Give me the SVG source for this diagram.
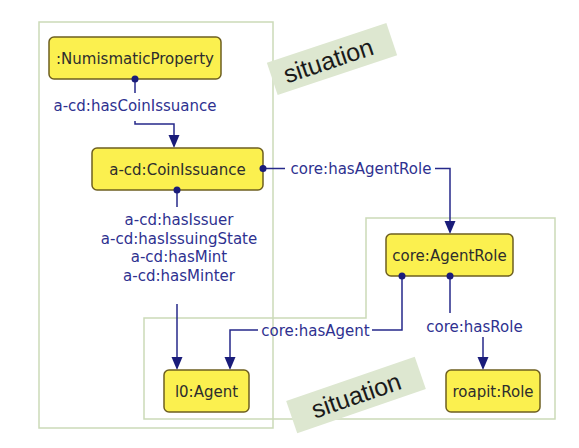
<svg xmlns="http://www.w3.org/2000/svg" width="579" height="448" viewBox="0 0 579 448">
<defs>
<style>
.frame{fill:none;stroke:#cbdab8;stroke-width:1.5}
.sitbg{fill:#dde7d0}
.sit{font-family:"Liberation Sans",Arial,sans-serif;font-size:25px;fill:#1a1a1a;text-anchor:middle}
.node rect{fill:#fbf04f;stroke:#6e5f20;stroke-width:1.5}
.node text{font-family:"DejaVu Sans",sans-serif;font-size:15px;fill:#2d2d2d;text-anchor:middle}
.conn path{fill:none;stroke:#26298a;stroke-width:1.5}
.conn circle,.conn polygon{fill:#1a1c7a}
.lbl{font-family:"DejaVu Sans",sans-serif;font-size:15px;fill:#2e3190;text-anchor:middle}
</style>
</defs>
<rect width="579" height="448" fill="#ffffff"/>
<g id="frames">
<rect class="frame" x="39" y="22" width="234" height="406"/>
<polygon class="frame" points="144,318 366,318 366,218 555,218 555,419 144,419"/>
</g>
<g id="situation1" transform="translate(332,59) rotate(-18.5)">
<rect class="sitbg" x="-63" y="-17" width="126" height="34"/>
<text class="sit" x="-4" y="9">situation</text>
</g>
<g id="situation2" transform="translate(356,395) rotate(-19)">
<rect class="sitbg" x="-68" y="-17" width="136" height="34"/>
<text class="sit" x="0" y="9">situation</text>
</g>
<g id="connectors" class="conn">
<path d="M135,79 V93"/>
<text class="lbl" x="135" y="111">a-cd:hasCoinIssuance</text>
<path d="M135,121 V124 H174 V137"/>
<polygon points="174,148 168.5,135 179.5,135"/>

<path d="M177,190 V207"/>
<text class="lbl" x="179" y="225">a-cd:hasIssuer</text>
<text class="lbl" x="179" y="243.5">a-cd:hasIssuingState</text>
<text class="lbl" x="179" y="262">a-cd:hasMint</text>
<text class="lbl" x="179" y="280.5">a-cd:hasMinter</text>
<path d="M177,304 V359"/>
<polygon points="177,370 171.5,357 182.5,357"/>

<path d="M263,168.5 H285"/>
<text class="lbl" x="361" y="174">core:hasAgentRole</text>
<path d="M435,168.5 H450 V223"/>
<polygon points="450,234 444.5,221 455.5,221"/>

<path d="M402,276 V330 H372"/>
<text class="lbl" x="315.5" y="335.5">core:hasAgent</text>
<path d="M258,330 H230 V359"/>
<polygon points="230,370 224.5,357 235.5,357"/>

<path d="M450,276 V313"/>
<text class="lbl" x="474.5" y="332">core:hasRole</text>
<path d="M483,337 V359"/>
<polygon points="483,370 477.5,357 488.5,357"/>
</g>
<g id="numismaticProperty" class="node">
<rect x="49" y="37" width="172" height="42" rx="5"/>
<text x="135" y="63.5">:NumismaticProperty</text>
</g>
<g id="coinIssuance" class="node">
<rect x="92" y="148" width="171" height="42" rx="5"/>
<text x="177.5" y="174.5">a-cd:CoinIssuance</text>
</g>
<g id="agentRole" class="node">
<rect x="386" y="234" width="127" height="42" rx="5"/>
<text x="449.5" y="260.5">core:AgentRole</text>
</g>
<g id="agent" class="node">
<rect x="164" y="370" width="85" height="42" rx="5"/>
<text x="206.5" y="396.5">l0:Agent</text>
</g>
<g id="role" class="node">
<rect x="446" y="370" width="94" height="42" rx="5"/>
<text x="493" y="396.5">roapit:Role</text>
</g>
<g id="connector-ends" class="conn">
<circle cx="135" cy="79" r="3.5"/>
<circle cx="177" cy="190" r="3.5"/>
<circle cx="263" cy="168.5" r="3.5"/>
<circle cx="402" cy="276" r="3.5"/>
<circle cx="450" cy="276" r="3.5"/>
</g>
</svg>
